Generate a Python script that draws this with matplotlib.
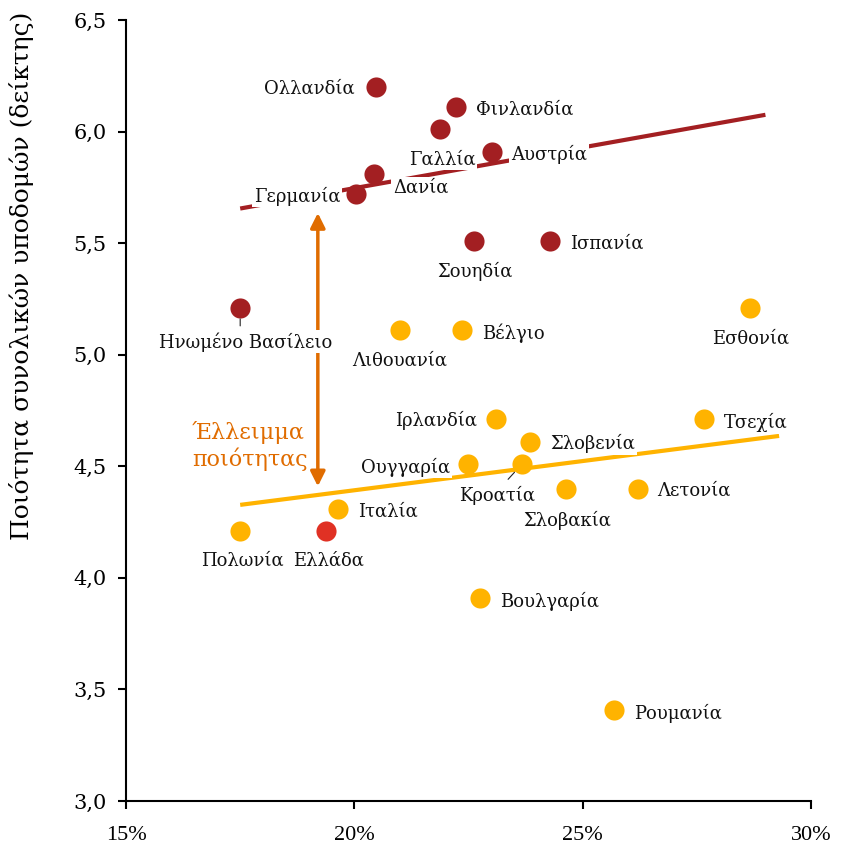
import matplotlib
matplotlib.use('Agg')
import matplotlib.pyplot as plt

plt.rcParams['font.family'] = ['DejaVu Serif']

# high-quality group (dark red)
top_names = ['Ολλανδία', 'Φινλανδία', 'Γαλλία', 'Αυστρία', 'Δανία', 'Γερμανία',
             'Σουηδία', 'Ισπανία', 'Ηνωμένο Βασίλειο']
top_x = [20.47, 22.23, 21.88, 23.01, 20.43, 20.04, 22.62, 24.28, 17.50]
top_y = [6.20, 6.11, 6.01, 5.91, 5.81, 5.72, 5.51, 5.51, 5.21]

# low-quality group (yellow)
low_names = ['Λιθουανία', 'Βέλγιο', 'Εσθονία', 'Ιρλανδία', 'Τσεχία', 'Σλοβενία',
             'Ουγγαρία', 'Κροατία', 'Σλοβακία', 'Λετονία', 'Ιταλία', 'Πολωνία',
             'Βουλγαρία', 'Ρουμανία']
low_x = [21.00, 22.36, 28.66, 23.10, 27.66, 23.85, 22.49, 23.67, 24.63, 26.21,
         19.64, 17.50, 22.75, 25.69]
low_y = [5.11, 5.11, 5.21, 4.71, 4.71, 4.61, 4.51, 4.51, 4.40, 4.40, 4.31, 4.21,
         3.91, 3.41]

greece_x, greece_y = 19.38, 4.21

# trend lines
top_trend_x = [17.5, 29.0]
top_trend_y = [5.655, 6.075]
low_trend_x = [17.5, 29.3]
low_trend_y = [4.327, 4.636]

# quality gap arrow
gap_x = 19.2
gap_y = [5.635, 4.41]

RED = '#a31f22'
YEL = '#ffb300'
GRC = '#e03124'
ORG = '#e06c00'

# label placement: (ha, dx px, dy px downward)
layout = {
    'Ολλανδία': ('right', -21, 2), 'Φινλανδία': ('left', 20, 3),
    'Γαλλία': ('center', 2, 30), 'Αυστρία': ('left', 19, 3),
    'Δανία': ('left', 19, 14), 'Γερμανία': ('right', -16, 2),
    'Σουηδία': ('center', 1, 31), 'Ισπανία': ('left', 20, 3),
    'Ηνωμένο Βασίλειο': ('center', 5, 34),
    'Λιθουανία': ('center', 0, 30), 'Βέλγιο': ('left', 20, 3),
    'Εσθονία': ('center', 1, 31), 'Ιρλανδία': ('right', -19, 1),
    'Τσεχία': ('left', 20, 3), 'Σλοβενία': ('left', 20, 2),
    'Ουγγαρία': ('right', -18, 3), 'Κροατία': ('center', -25, 31),
    'Σλοβακία': ('center', 1, 32), 'Λετονία': ('left', 19, 2),
    'Ιταλία': ('left', 20, 3), 'Πολωνία': ('center', 2, 30),
    'Ελλάδα': ('center', 2, 30), 'Βουλγαρία': ('left', 20, 4),
    'Ρουμανία': ('left', 20, 4),
}

fig = plt.figure(figsize=(8.44, 8.46), dpi=100)
ax = fig.add_axes([0.1493, 0.0532, 0.8117, 0.9232])

ax.plot(top_trend_x, top_trend_y, color=RED, lw=3, zorder=1, solid_capstyle='butt')
ax.plot(low_trend_x, low_trend_y, color=YEL, lw=3, zorder=1, solid_capstyle='butt')

ax.scatter(top_x, top_y, s=210, color=RED, zorder=4, linewidths=0)
ax.scatter(low_x, low_y, s=210, color=YEL, zorder=4, linewidths=0)
ax.scatter([greece_x], [greece_y], s=210, color=GRC, zorder=4, linewidths=0)

names = top_names + low_names + ['Ελλάδα']
xs = top_x + low_x + [greece_x]
ys = top_y + low_y + [greece_y]
for n, x, y in zip(names, xs, ys):
    ha, dx, dy = layout[n]
    ax.annotate(n, (x, y), xytext=(dx * 0.72, -dy * 0.72), textcoords='offset points',
                ha=ha, va='center', fontsize=13, color='#111111', zorder=3,
                bbox=dict(boxstyle='square,pad=0.1', fc='white', ec='none'))

# small leader lines
uk = top_names.index('Ηνωμένο Βασίλειο')
ax.annotate('', (top_x[uk], top_y[uk]), xytext=(0, -13), textcoords='offset points',
            arrowprops=dict(arrowstyle='-', color='#222222', lw=0.8, shrinkA=0, shrinkB=8),
            zorder=5)
hr = low_names.index('Κροατία')
ax.annotate('', (low_x[hr], low_y[hr]), xytext=(-10, -11), textcoords='offset points',
            arrowprops=dict(arrowstyle='-', color='#222222', lw=0.8, shrinkA=0, shrinkB=8),
            zorder=5)

ax.annotate('', xy=(gap_x, gap_y[0]), xytext=(gap_x, gap_y[1]),
            arrowprops=dict(arrowstyle='<|-|>', color=ORG, lw=2.5, mutation_scale=22,
                            shrinkA=0, shrinkB=0), zorder=2)
ax.text(16.445, 4.59, 'Έλλειμμα\nποιότητας', color=ORG, fontsize=16, ha='left',
        va='center', linespacing=1.2, zorder=3)

ax.set_xlim(15, 30)
ax.set_ylim(3.0, 6.5)
ax.set_xticks([15, 20, 25, 30])
ax.set_xticklabels(['15%', '20%', '25%', '30%'], family='Liberation Serif', fontsize=16)
yt = [3.0, 3.5, 4.0, 4.5, 5.0, 5.5, 6.0, 6.5]
ax.set_yticks(yt)
ax.set_yticklabels([f'{v:.1f}'.replace('.', ',') for v in yt], fontsize=15)
ax.tick_params(axis='both', direction='out', length=6, width=1.5, colors='black')
ax.tick_params(axis='x', pad=12)
ax.tick_params(axis='y', pad=8)
for s in ['top', 'right']:
    ax.spines[s].set_visible(False)
for s in ['left', 'bottom']:
    ax.spines[s].set_linewidth(1.5)
ax.set_ylabel('Ποιότητα συνολικών υποδομών (δείκτης)', fontsize=18)
ax.yaxis.set_label_coords(-0.135, 0.673)

fig.savefig('out.png', dpi=100)
